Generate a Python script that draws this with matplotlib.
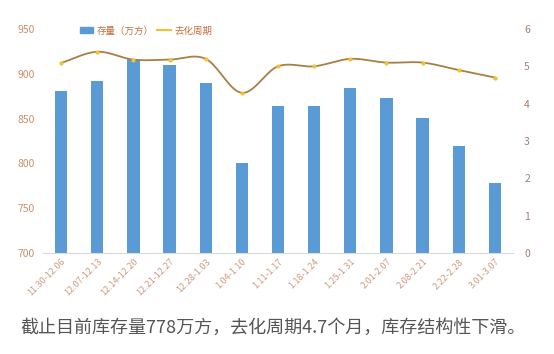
import numpy as np
import matplotlib
matplotlib.use("Agg")
import matplotlib.pyplot as plt
from matplotlib.lines import Line2D
from matplotlib.patches import Patch

plt.rcParams['font.family'] = ['Noto Sans CJK SC', 'DejaVu Sans']

categories = ["11.30-12.06", "12.07-12.13", "12.14-12.20", "12.21-12.27", "12.28-1.03",
              "1.04-1.10", "1.11-1.17", "1.18-1.24", "1.25-1.31", "2.01-2.07",
              "2.08-2.21", "2.22-2.28", "3.01-3.07"]
stock = [881, 892, 916, 910, 890, 800, 864, 864, 884, 873, 851, 819, 778]
cycle = [5.09, 5.39, 5.18, 5.18, 5.2, 4.29, 5.0, 5.0, 5.2, 5.1, 5.1, 4.9, 4.7]
left_ticks = [700, 750, 800, 850, 900, 950]
right_ticks = [0, 1, 2, 3, 4, 5, 6]
caption = "截止目前库存量778万方，去化周期4.7个月，库存结构性下滑。"

bar_color = "#5b9bd5"
line_color = "#a87f45"
marker_color = "#f2c12e"
tick_color_left = "#c8906a"
tick_color_right = "#a08070"
xtick_color = "#d09a80"

fig = plt.figure(figsize=(5.54, 3.54), dpi=100)
ax = fig.add_axes([43/554, 1-253/354, (513-43)/554, (253-29)/354])
x = np.arange(len(categories))
ax.bar(x, [s - 700 for s in stock], bottom=700, width=0.34, color=bar_color, zorder=2)
ax.set_ylim(700, 950)
ax.set_xlim(-0.5, len(categories) - 0.5)
ax.set_yticks(left_ticks)
ax.set_xticks(x)
ax.set_xticklabels(categories, rotation=45, ha='right', rotation_mode='anchor',
                   fontsize=6.5, color=xtick_color)
ax.tick_params(axis='y', length=0, labelsize=7.5, colors=tick_color_left, pad=6)
ax.tick_params(axis='x', length=0, pad=3)
for s in ['top', 'right', 'left']:
    ax.spines[s].set_visible(False)
ax.spines['bottom'].set_color('#d9d9d9')

ax2 = ax.twinx()
ax2.set_ylim(0, 6)
ax2.set_yticks(right_ticks)
ax2.tick_params(axis='y', length=0, labelsize=7.5, colors=tick_color_right, pad=8)
for s in ax2.spines.values():
    s.set_visible(False)

# smooth curve (Catmull-Rom) through the read points
def catmull(xs, ys, n=20):
    xs = np.asarray(xs, float); ys = np.asarray(ys, float)
    px = np.concatenate([[2*xs[0]-xs[1]], xs, [2*xs[-1]-xs[-2]]])
    py = np.concatenate([[2*ys[0]-ys[1]], ys, [2*ys[-1]-ys[-2]]])
    ox, oy = [], []
    for i in range(1, len(px) - 2):
        t = np.linspace(0, 1, n, endpoint=False)
        for arr, out in ((px, ox), (py, oy)):
            p0, p1, p2, p3 = arr[i-1], arr[i], arr[i+1], arr[i+2]
            out.extend(0.5*((2*p1) + (-p0+p2)*t + (2*p0-5*p1+4*p2-p3)*t**2 + (-p0+3*p1-3*p2+p3)*t**3))
    ox.append(xs[-1]); oy.append(ys[-1])
    return np.array(ox), np.array(oy)

sx, sy = catmull(x, cycle)
ax2.plot(sx, sy, color=line_color, lw=1.3, zorder=3)
ax2.plot(x, cycle, 'o', color=marker_color, ms=3, zorder=4, markeredgewidth=0)

handles = [Patch(color=bar_color, label="存量（万方）"),
           Line2D([0], [0], color=marker_color, lw=1.5, label="去化周期")]
leg = fig.legend(handles=handles, loc='center', bbox_to_anchor=(146/554, 1-31/354),
                 ncol=2, frameon=False, fontsize=6.8, handlelength=1.4, handleheight=0.6,
                 columnspacing=0.4, handletextpad=0.4)
for t in leg.get_texts():
    t.set_color("#c0703a")

fig.text(20/554, 1-328/354, caption, fontsize=13, color="#555555", va='center', ha='left')

fig.savefig("out.png", dpi=100)
